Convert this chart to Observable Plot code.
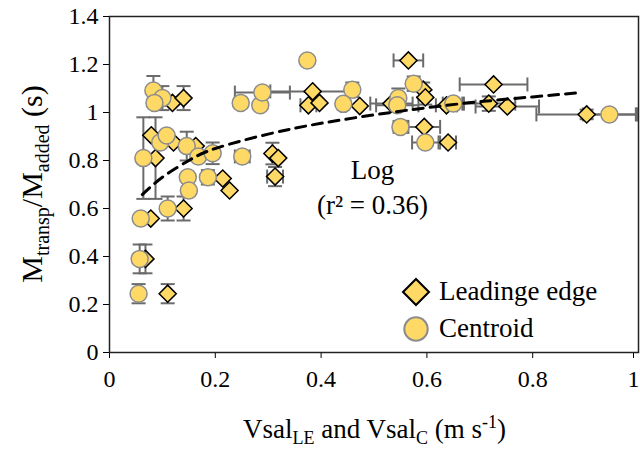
<!DOCTYPE html>
<html>
<head>
<meta charset="utf-8">
<script src="https://cdn.jsdelivr.net/npm/d3@7"></script>
<script src="https://cdn.jsdelivr.net/npm/@observablehq/plot@0.6"></script>
<style>
  html, body { margin: 0; padding: 0; background: #fff; }
  #wrap { position: relative; width: 640px; height: 452px; font-family: "Liberation Serif", "Times New Roman", serif; }
  #wrap svg, #wrap svg text, #wrap svg tspan, #wrap div, #wrap span { font-family: "Liberation Serif", "Times New Roman", serif !important; }
  #legend { position: absolute; left: 405px; top: 276px; }
  .lg-swatch { font-size: 27px !important; margin: 0 0 5px 0 !important; color: #000; }
  .lg-swatch svg { margin-right: 12px !important; }
</style>
</head>
<body>
<div id="wrap"><div id="chart"></div><div id="legend"></div></div>
<script>
// Leading edge (diamonds)
const leX    = [0.110, 0.068, 0.078, 0.140, 0.087, 0.079, 0.121, 0.163, 0.119, 0.140, 0.214, 0.227, 0.308, 0.319, 0.313, 0.384, 0.376, 0.397, 0.473, 0.533, 0.565, 0.593, 0.597, 0.595, 0.640, 0.637, 0.717, 0.726, 0.752, 0.902];
const leY    = [0.245, 0.390, 0.558, 0.600, 0.810, 0.905, 0.875, 0.860, 1.040, 1.060, 0.725, 0.675, 0.829, 0.810, 0.733, 1.088, 1.030, 1.040, 1.027, 1.037, 1.217, 1.095, 1.063, 0.940, 0.875, 1.030, 1.037, 1.117, 1.025, 0.992];
const leXerr = [0, 0, 0, 0, 0, 0, 0, 0, 0, 0, 0, 0, 0, 0, 0.015, 0.080, 0.015, 0, 0, 0.040, 0.028, 0, 0, 0.030, 0.015, 0.020, 0.050, 0.064, 0.060, 0.095];
const leYerr = [0.040, 0.060, 0, 0.050, 0.170, 0, 0, 0, 0, 0.050, 0, 0, 0.045, 0, 0.040, 0, 0, 0, 0, 0, 0, 0.030, 0.030, 0, 0, 0, 0.030, 0, 0, 0.020];

// Centroid (circles)
const ceX    = [0.055, 0.057, 0.059, 0.064, 0.110, 0.083, 0.100, 0.085, 0.096, 0.108, 0.146, 0.168, 0.195, 0.148, 0.150, 0.186, 0.251, 0.248, 0.285, 0.289, 0.374, 0.459, 0.442, 0.546, 0.544, 0.575, 0.550, 0.597, 0.650, 0.945];
const ceY    = [0.245, 0.390, 0.558, 0.810, 0.600, 1.092, 1.060, 1.040, 0.875, 0.904, 0.860, 0.817, 0.830, 0.730, 0.675, 0.730, 0.817, 1.040, 1.030, 1.083, 1.217, 1.095, 1.036, 1.060, 1.030, 1.120, 0.940, 0.875, 1.037, 0.992];
const ceXerr = [0, 0, 0, 0, 0, 0, 0, 0, 0, 0, 0, 0, 0, 0, 0, 0, 0.014, 0, 0, 0.052, 0, 0, 0, 0, 0.040, 0, 0.013, 0.025, 0.020, 0.050];
const ceYerr = [0.040, 0.060, 0, 0.170, 0.050, 0.060, 0.050, 0, 0, 0, 0.060, 0, 0.045, 0, 0, 0.030, 0, 0.020, 0, 0, 0, 0.030, 0, 0.040, 0, 0.030, 0, 0, 0, 0];

// Log fit curve
const fitX = [0.062, 0.10, 0.15, 0.20, 0.30, 0.40, 0.50, 0.60, 0.70, 0.80, 0.89];
const fitY = [0.658, 0.73, 0.80, 0.85, 0.91, 0.955, 0.99, 1.02, 1.045, 1.065, 1.083];

const xTicks = [0, 0.2, 0.4, 0.6, 0.8, 1];
const yTicks = [0, 0.2, 0.4, 0.6, 0.8, 1, 1.2, 1.4];
const seriesNames = ["Leadinge edge", "Centroid"];
const annotations = ["Log", "(r\u00b2 = 0.36)"];

const le = leX.map((x, i) => ({x, y: leY[i], xe: leXerr[i], ye: leYerr[i]}));
const ce = ceX.map((x, i) => ({x, y: ceY[i], xe: ceXerr[i], ye: ceYerr[i]}));
const all = le.concat(ce);
const vErr = all.filter(d => d.ye > 0);
const hErr = all.filter(d => d.xe > 0);
const fit = fitX.map((x, i) => ({x, y: fitY[i]}));

const W = 640, H = 452, mT = 16, mR = 2, mB = 100, mL = 109;
const capX = 7 / (W - mL - mR);
const capY = 7 / (H - mT - mB) * 1.4;
const errStyle = {stroke: "#6b6b6b", strokeWidth: 2};
const fillCol = "#FFD966";
const serif = "'Liberation Serif', 'Times New Roman', serif";

const chart = Plot.plot({
  width: W, height: H,
  marginTop: mT, marginRight: mR, marginBottom: mB, marginLeft: mL,
  style: {fontFamily: serif, fontSize: "24px", color: "#000", background: "#fff", overflow: "visible"},
  x: {domain: [0, 1]},
  y: {domain: [0, 1.4]},
  marks: [
    Plot.axisX({ticks: xTicks.slice(0, -1), tickFormat: d => String(d), tickSize: 6, tickPadding: 11, label: null, fontSize: 24, fontFamily: serif}),
    Plot.axisX({ticks: xTicks.slice(-1), tickFormat: d => String(d), tickSize: 6, tickPadding: 11, label: null, fontSize: 24, fontFamily: serif, dx: -5}),
    Plot.axisY({ticks: yTicks, tickFormat: d => String(d), tickSize: 6, tickPadding: 5, label: null, fontSize: 24, fontFamily: serif}),
    // vertical error bars
    Plot.ruleX(vErr, {x: "x", y1: d => d.y - d.ye, y2: d => d.y + d.ye, ...errStyle}),
    Plot.link(vErr, {x1: d => d.x - capX, x2: d => d.x + capX, y1: d => d.y + d.ye, y2: d => d.y + d.ye, ...errStyle}),
    Plot.link(vErr, {x1: d => d.x - capX, x2: d => d.x + capX, y1: d => d.y - d.ye, y2: d => d.y - d.ye, ...errStyle}),
    // horizontal error bars
    Plot.ruleY(hErr, {y: "y", x1: d => d.x - d.xe, x2: d => d.x + d.xe, ...errStyle}),
    Plot.link(hErr, {x1: d => d.x - d.xe, x2: d => d.x - d.xe, y1: d => d.y - capY, y2: d => d.y + capY, ...errStyle}),
    Plot.link(hErr, {x1: d => d.x + d.xe, x2: d => d.x + d.xe, y1: d => d.y - capY, y2: d => d.y + capY, ...errStyle}),
    // markers
    Plot.dot(le, {x: "x", y: "y", symbol: "diamond2", r: 7.7, fill: fillCol, stroke: "#000", strokeWidth: 1.5}),
    Plot.dot(ce, {x: "x", y: "y", symbol: "circle", r: 8.5, fill: fillCol, stroke: "#8c8c8c", strokeWidth: 1.5}),
    // fit line
    Plot.line(fit, {x: "x", y: "y", curve: "natural", stroke: "#000", strokeWidth: 3, strokeDasharray: "10,7"}),
    // annotation
    Plot.text([annotations[0]], {x: 0.497, y: 0.757, text: d => d, fontSize: 27, fontFamily: serif, fill: "#000"}),
    Plot.text([annotations[1]], {x: 0.497, y: 0.612, text: d => d, fontSize: 27, fontFamily: serif, fill: "#000"}),
    Plot.frame({stroke: "#222", strokeWidth: 1.5})
  ]
});
document.getElementById("chart").appendChild(chart);

// axis titles with subscripts
const svg = d3.select(chart);
const xt = svg.append("text")
  .attr("x", (mL + W - mR) / 2 + 1).attr("y", 438)
  .attr("text-anchor", "middle").attr("font-size", 27).attr("fill", "#000")
  .attr("font-family", serif);
xt.append("tspan").text("Vsal");
xt.append("tspan").attr("font-size", 18).attr("dy", 6).text("LE");
xt.append("tspan").attr("dy", -6).text(" and Vsal");
xt.append("tspan").attr("font-size", 18).attr("dy", 6).text("C");
xt.append("tspan").attr("dy", -6).text(" (m s");
xt.append("tspan").attr("font-size", 18).attr("dy", -10).text("-1");
xt.append("tspan").attr("dy", 10).text(")");

const yt = svg.append("text")
  .attr("transform", `translate(42,${(mT + H - mB) / 2}) rotate(-90)`)
  .attr("text-anchor", "middle").attr("font-size", 30).attr("fill", "#000")
  .attr("font-family", serif);
yt.append("tspan").text("M");
yt.append("tspan").attr("font-size", 20).attr("dy", 7).text("transp");
yt.append("tspan").attr("dy", -7).text("/M");
yt.append("tspan").attr("font-size", 20).attr("dy", 7).text("added");
yt.append("tspan").attr("dy", -7).text(" (s)");

// legend
const leg = Plot.legend({
  symbol: {domain: seriesNames, range: ["diamond2", "circle"]},
  fill: fillCol, stroke: "#000", strokeWidth: 1.5, r: 8.5,
  swatchSize: 22, columns: 1, className: "lg",
  style: {fontFamily: serif, fontSize: "27px", color: "#000"}
});
document.getElementById("legend").appendChild(leg);
d3.select(leg).selectAll("svg").filter((d, i) => i === 1).selectAll("path, circle").attr("stroke", "#8c8c8c");
</script>
</body>
</html>
